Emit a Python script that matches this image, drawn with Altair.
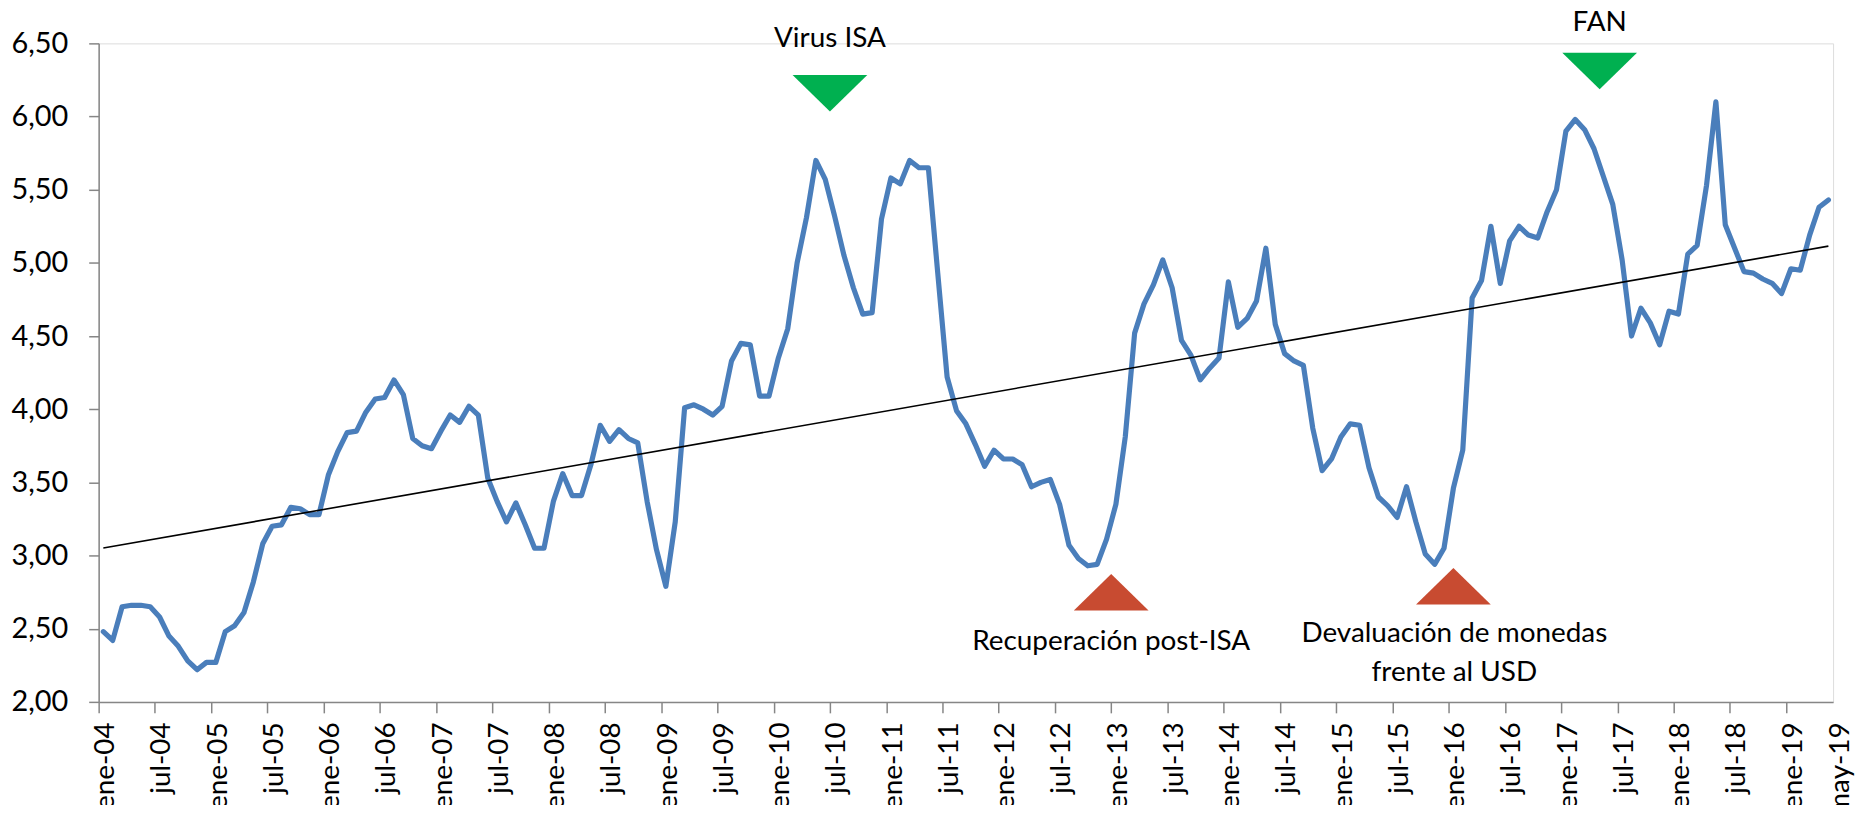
import altair as alt
import pandas as pd

# Monthly series, ene-04 .. may-19 (185 months)
values = [
    2.48, 2.42, 2.65, 2.66, 2.66, 2.65, 2.58, 2.45, 2.38, 2.28, 2.22, 2.27,
    2.27, 2.48, 2.52, 2.61, 2.82, 3.08, 3.20, 3.21, 3.33, 3.32, 3.28, 3.28,
    3.55, 3.71, 3.84, 3.85, 3.98, 4.07, 4.08, 4.20, 4.10, 3.80, 3.75, 3.73,
    3.85, 3.96, 3.91, 4.02, 3.96, 3.53, 3.37, 3.23, 3.36, 3.21, 3.05, 3.05,
    3.37, 3.56, 3.41, 3.41, 3.62, 3.89, 3.78, 3.86, 3.80, 3.77, 3.37, 3.04,
    2.79, 3.23, 4.01, 4.03, 4.00, 3.96, 4.02, 4.33, 4.45, 4.44, 4.09, 4.09,
    4.35, 4.55, 5.00, 5.31, 5.70, 5.57, 5.32, 5.05, 4.83, 4.65, 4.66, 5.30,
    5.58, 5.54, 5.70, 5.65, 5.65, 4.93, 4.22, 3.99, 3.90, 3.76, 3.61, 3.72,
    3.66, 3.66, 3.62, 3.47, 3.50, 3.52, 3.35, 3.07, 2.98, 2.93, 2.94, 3.11,
    3.35, 3.81, 4.52, 4.72, 4.85, 5.02, 4.83, 4.47, 4.37, 4.20, 4.28, 4.35,
    4.87, 4.56, 4.62, 4.74, 5.10, 4.58, 4.38, 4.33, 4.30, 3.87, 3.58, 3.66,
    3.81, 3.90, 3.89, 3.60, 3.40, 3.34, 3.26, 3.47, 3.23, 3.01, 2.94, 3.05,
    3.46, 3.72, 4.76, 4.88, 5.25, 4.86, 5.15, 5.25, 5.19, 5.17, 5.35, 5.50,
    5.90, 5.98, 5.91, 5.78, 5.59, 5.40, 5.02, 4.50, 4.69, 4.59, 4.44, 4.67,
    4.65, 5.06, 5.12, 5.53, 6.10, 5.26, 5.10, 4.94, 4.93, 4.89, 4.86, 4.79,
    4.96, 4.95, 5.19, 5.38, 5.43,
]

tick_labels = [
    "ene-04", "jul-04", "ene-05", "jul-05", "ene-06", "jul-06", "ene-07", "jul-07",
    "ene-08", "jul-08", "ene-09", "jul-09", "ene-10", "jul-10", "ene-11", "jul-11",
    "ene-12", "jul-12", "ene-13", "jul-13", "ene-14", "jul-14", "ene-15", "jul-15",
    "ene-16", "jul-16", "ene-17", "jul-17", "ene-18", "jul-18", "ene-19",
]
last_label = "may-19"
y_ticks = [2.0, 2.5, 3.0, 3.5, 4.0, 4.5, 5.0, 5.5, 6.0, 6.5]

# annotations (data coordinates)
annot_text = ["Virus ISA", "FAN", "Recuperación post-ISA", "Devaluación de monedas", "frente al USD"]
annot_x = [78, 160.1, 108, 144.6, 144.6]
annot_y = [6.475, 6.585, 2.354, 2.408, 2.143]

tri_kind = ["down", "down", "up", "up"]
tri_x = [78, 160.1, 108, 144.5]
tri_y = [6.159, 6.311, 2.749, 2.79]

n = len(values)
df = pd.DataFrame({"x": [i + 0.5 for i in range(n)], "v": values})
ann = pd.DataFrame({"t": annot_text, "x": annot_x, "y": annot_y})
tri = pd.DataFrame({"k": tri_kind, "x": tri_x, "y": tri_y})

FONT = "Lato"
AX = "#868686"

tick_vals = [6 * k for k in range(len(tick_labels))] + [n]
arr = "[" + ",".join("'" + t + "'" for t in tick_labels) + "]"
label_expr = f"datum.value == {n} ? '{last_label}' : {arr}[datum.value / 6]"

xscale = alt.Scale(domain=[0, n], nice=False, zero=False)
yscale = alt.Scale(domain=[2, 6.5], nice=False, zero=False)

xaxis = alt.Axis(
    values=tick_vals, labelExpr=label_expr, labelAngle=270, title=None, grid=False,
    labelFont=FONT, labelFontSize=28, labelColor="black", labelPadding=9,
    labelOffset=7, tickSize=11, tickWidth=1.5, domainWidth=1.5,
    tickColor=AX, domainColor=AX,
    tickOpacity={"condition": {"test": f"datum.value == {n}", "value": 0}, "value": 1},
    labelFlush=False, labelOverlap=False,
)
yaxis = alt.Axis(
    values=y_ticks, labelExpr="replace(format(datum.value, '.2f'), '.', ',')",
    title=None, grid=False, labelFont=FONT, labelFontSize=29, labelColor="black",
    labelPadding=21, tickSize=10, tickWidth=1.5, domainWidth=1.5,
    tickColor=AX, domainColor=AX,
)

line = alt.Chart(df).mark_line(color="#4A7EBB", strokeWidth=5.2, strokeJoin="round", strokeCap="round").encode(
    x=alt.X("x:Q", scale=xscale, axis=xaxis),
    y=alt.Y("v:Q", scale=yscale, axis=yaxis),
)

trend = alt.Chart(df).transform_regression("x", "v", method="linear").mark_line(
    color="black", strokeWidth=1.6
).encode(x=alt.X("x:Q", scale=xscale), y=alt.Y("v:Q", scale=yscale))

tris = alt.Chart(tri).mark_point(filled=True, opacity=1, size=5625, strokeWidth=0).encode(
    x=alt.X("x:Q", scale=xscale),
    y=alt.Y("y:Q", scale=yscale),
    color=alt.Color("k:N", scale=alt.Scale(domain=["down", "up"], range=["#00B050", "#C84B31"]), legend=None),
    shape=alt.Shape("k:N", scale=alt.Scale(domain=["down", "up"],
                    range=["M-1,-0.49L1,-0.49L0,0.49Z", "M-1,0.49L1,0.49L0,-0.49Z"]), legend=None),
)

texts = alt.Chart(ann).mark_text(font=FONT, fontSize=28, color="black", baseline="alphabetic", align="center").encode(
    x=alt.X("x:Q", scale=xscale),
    y=alt.Y("y:Q", scale=yscale),
    text="t:N",
)

chart = alt.layer(line, trend, tris, texts).properties(
    width=1741, height=661, autosize="none",
    padding={"left": 91, "top": 34, "right": 24, "bottom": 102},
).configure_view(stroke=None).configure(background="white")

chart.save("out.html", embed_options={"renderer": "svg", "actions": False})
